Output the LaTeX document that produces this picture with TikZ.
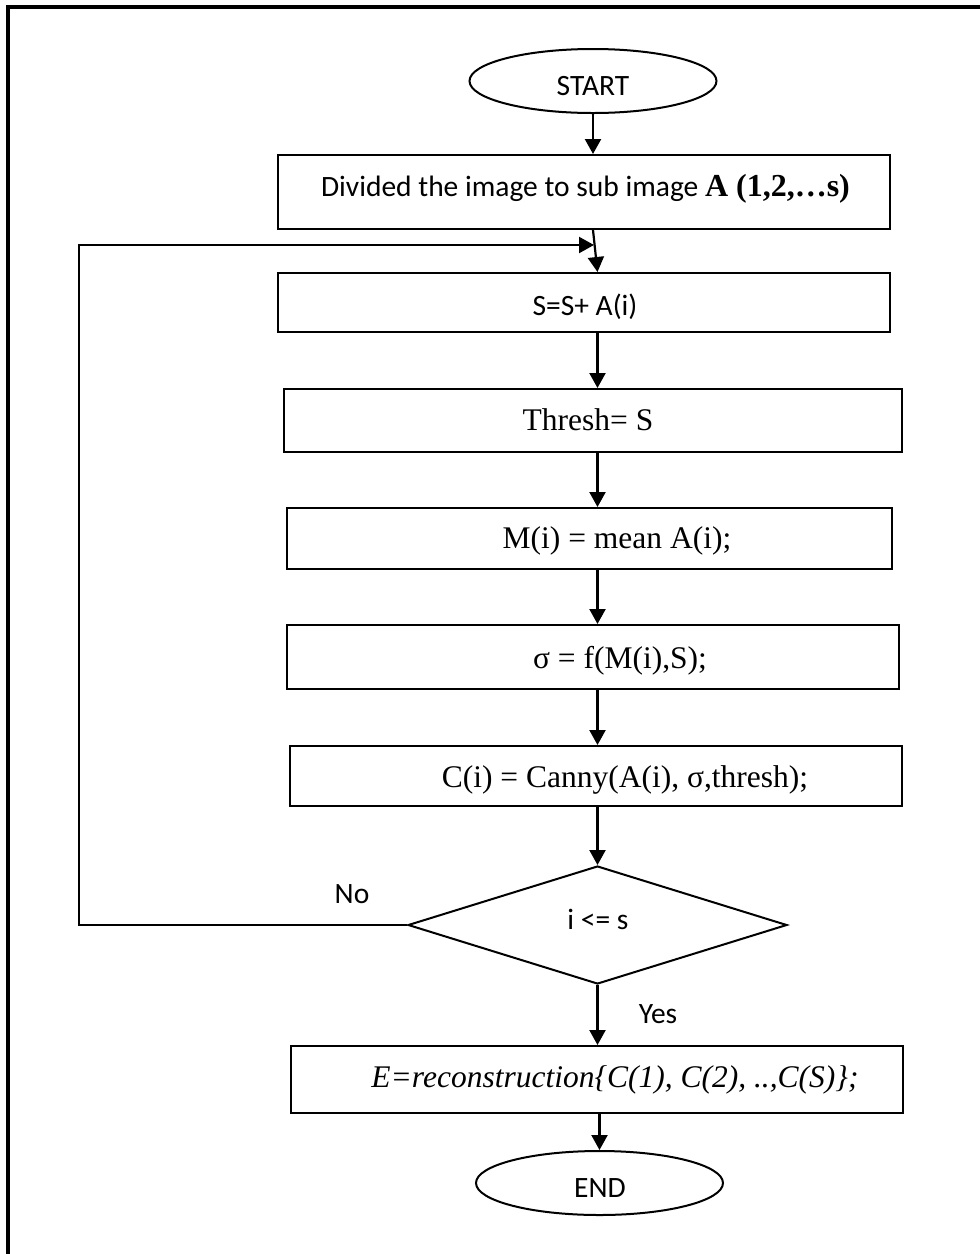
\documentclass[tikz,border=0pt]{standalone}
\usepackage{fontspec}
\setmainfont{Liberation Serif}
\newfontfamily\calib{Carlito}
\usetikzlibrary{arrows.meta,shapes.geometric,calc}

\begin{document}
\begin{tikzpicture}[x=1pt,y=-1pt,
  line width=2pt,
  procbox/.style n args={2}{draw, rectangle, inner sep=0pt, minimum width=#1, minimum height=#2},
  term/.style={draw, ellipse, inner sep=0pt, minimum width=247pt, minimum height=64pt},
  decide/.style={draw, diamond, inner sep=0pt, minimum width=379pt, minimum height=118pt},
  sanslbl/.style={anchor=base, inner sep=0pt, font=\calib\fontsize{29.5}{34}\selectfont},
  seriflbl/.style={anchor=base, inner sep=0pt, font=\fontsize{31.5}{36}\selectfont},
  arr/.style={-{Triangle[length=15pt,width=16pt]}, line width=2.2pt}
]
\useasboundingbox (0,0) rectangle (980,1254);

% frame on the top and left edges
\draw[line width=4.5pt] (8,1254) -- (8,7) -- (980,7);

% shapes
\node[term] (start) at (593,81) {};
\node[procbox={612pt}{74pt}] (b1) at (584,192) {};
\node[procbox={612pt}{59pt}] (b2) at (584,302.5) {};
\node[procbox={618pt}{63pt}] (b3) at (593,420.5) {};
\node[procbox={605pt}{61pt}] (b4) at (589.5,538.5) {};
\node[procbox={612pt}{64pt}] (b5) at (593,657) {};
\node[procbox={612pt}{60pt}] (b6) at (596,776) {};
\node[decide] (dia) at (597.5,925) {};
\node[procbox={612pt}{67pt}] (b7) at (597,1079.5) {};
\node[term] (stop) at (599.5,1183) {};

% texts
\node[sanslbl] (tstart) at (593,95) {START};
\node[sanslbl] (t1) at (585.5,196) {Divided the image to sub image {\rmfamily\bfseries\fontsize{32}{36}\selectfont A (1,2,…s)}};
\node[sanslbl] (t2) at (585,315) {S=S+ A(i)};
\node[seriflbl] (t3) at (588,430) {Thresh= S};
\node[seriflbl] (t4) at (617,548) {M(i) = mean A(i);};
\node[seriflbl] (t5) at (620,668) {σ = f(M(i),S);};
\node[seriflbl] (t6) at (625,787) {C(i) = Canny(A(i), σ,thresh);};
\node[sanslbl] (tdia) at (598,929) {i <= s};
\node[sanslbl] (tno) at (352,903) {No};
\node[sanslbl] (tyes) at (658,1023) {Yes};
\node[seriflbl] (t7) at (615,1087) {\itshape E=reconstruction\{C(1), C(2), ..,C(S)\};};
\node[sanslbl] (tstop) at (600,1197) {END};

% connectors
\coordinate (lp) at (79,245);
\coordinate (join) at (594,245);
\draw[arr] (start.south) -- (start.south |- b1.north);
\draw[arr] (b1.south -| start.south) -- (b2.north -| dia.north);
\draw[arr] (b2.south -| dia.north) -- (b3.north -| dia.north);
\draw[arr] (b3.south -| dia.north) -- (b4.north -| dia.north);
\draw[arr] (b4.south -| dia.north) -- (b5.north -| dia.north);
\draw[arr] (b5.south -| dia.north) -- (b6.north -| dia.north);
\draw[arr] (b6.south -| dia.north) -- (dia.north);
\draw[arr] (dia.south) -- (b7.north -| dia.south);
\draw[arr] (b7.south -| stop.north) -- (stop.north);
\draw[arr] (dia.west) -| (lp) -- (join);
\end{tikzpicture}
\end{document}
